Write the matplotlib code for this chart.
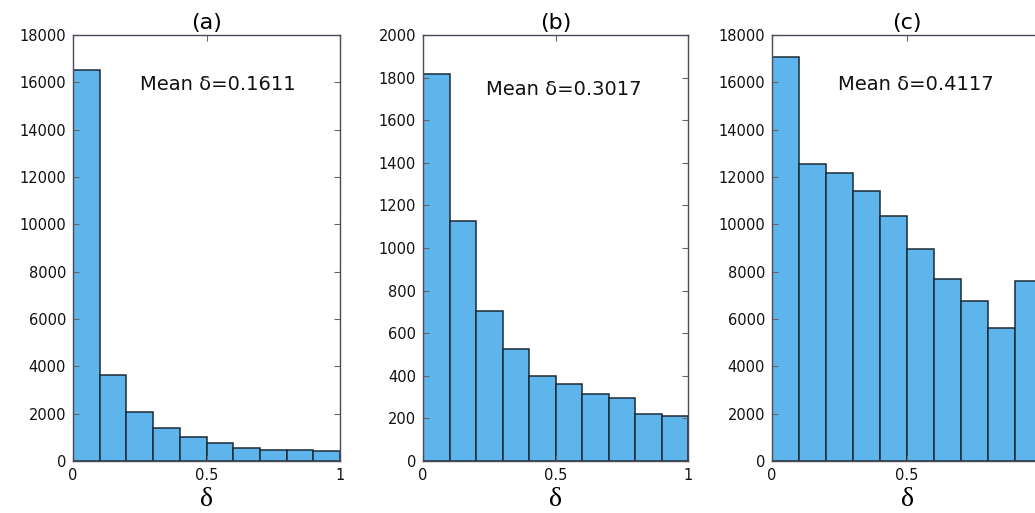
import numpy as np
import matplotlib
matplotlib.use("Agg")
import matplotlib.pyplot as plt

bin_edges = [0.0, 0.1, 0.2, 0.3, 0.4, 0.5, 0.6, 0.7, 0.8, 0.9, 1.0]
counts_a = [16500, 3620, 2060, 1410, 1010, 755, 545, 450, 475, 405]
counts_b = [1817, 1126, 702, 525, 398, 363, 313, 298, 219, 213]
counts_c = [17070, 12540, 12160, 11410, 10365, 8950, 7700, 6740, 5630, 7590]
titles = ["(a)", "(b)", "(c)"]
mean_labels = ["Mean δ=0.1611", "Mean δ=0.3017", "Mean δ=0.4117"]
ymaxes = [18000, 2000, 18000]
ysteps = [2000, 200, 2000]
xticks = [0, 0.5, 1]
xticklabels = ["0", "0.5", "1"]

W, H = 1035, 513
fig = plt.figure(figsize=(W / 100, H / 100), dpi=100)

# axes placement in pixels: left, width
lefts = [73, 423, 772]
widths = [267, 265, 270]
top_px, bottom_px = 35, 461
text_x = [0.541, 0.532, 0.533]
text_y = [0.883, 0.871, 0.883]

bar_color = "#5db5ec"
edge_color = "#1d2a36"
frame_color = "#4a4a5a"

all_counts = [counts_a, counts_b, counts_c]
for i in range(3):
    ax = fig.add_axes([lefts[i] / W, (H - bottom_px) / H,
                       widths[i] / W, (bottom_px - top_px) / H])
    left_edges = bin_edges[:-1]
    bw = [bin_edges[k + 1] - bin_edges[k] for k in range(len(left_edges))]
    ax.bar(left_edges, all_counts[i], width=bw, align="edge",
           color=bar_color, edgecolor=edge_color, linewidth=1.1)
    ax.set_xlim(0, 1)
    ax.set_ylim(0, ymaxes[i])
    ax.set_yticks(np.arange(0, ymaxes[i] + 1, ysteps[i]))
    ax.set_xticks(xticks)
    ax.set_xticklabels(xticklabels)
    ax.tick_params(direction="in", top=True, right=True, length=4,
                   width=0.8, color="#666666", labelsize=10.5,
                   labelcolor="#111111", pad=5)
    for lab in ax.get_xticklabels() + ax.get_yticklabels():
        lab.set_family("DejaVu Sans")
    for sp in ax.spines.values():
        sp.set_color(frame_color)
        sp.set_linewidth(1.0)
    ax.set_title(titles[i], fontsize=16, family="DejaVu Sans", pad=4)
    ax.set_xlabel("δ", fontsize=20, family="Liberation Serif", labelpad=3)
    ax.text(text_x[i], text_y[i], mean_labels[i], transform=ax.transAxes,
            ha="center", va="center", fontsize=14, family="DejaVu Sans",
            color="#111111")

fig.savefig("out.png", dpi=100)
